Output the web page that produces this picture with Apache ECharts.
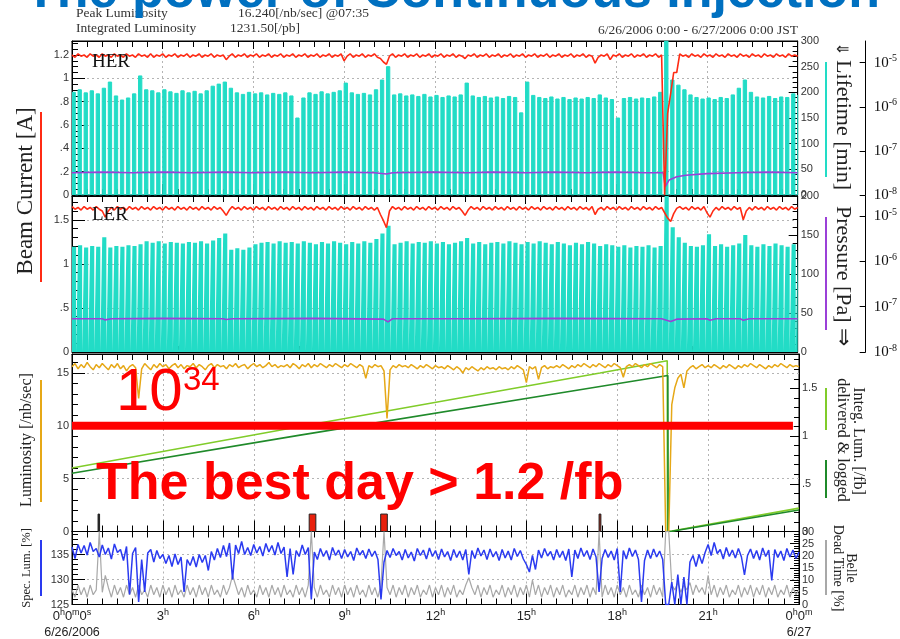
<!DOCTYPE html>
<html><head><meta charset="utf-8">
<script src="https://cdn.jsdelivr.net/npm/echarts@6/dist/echarts.min.js"></script>
<style>html,body{margin:0;padding:0;background:#fff}#c{width:900px;height:639px}</style>
</head><body><div id="c"></div>
<script>
// ---------------- DATA ----------------
// time step of dense series (hours)
const dtFine = 0.1;
const dtLife = 0.2;

// HER beam current [A], every 0.1 h
const herCurrent = [
1.20,1.18,1.21,1.19,1.20,1.18,1.21,1.19,1.20,1.18,
1.21,1.19,1.20,1.18,1.21,1.19,1.20,1.18,1.21,1.19,
1.20,1.18,1.21,1.19,1.20,1.18,1.21,1.18,1.20,1.19,
1.21,1.18,1.20,1.19,1.21,1.18,1.20,1.19,1.21,1.18,
1.20,1.19,1.21,1.18,1.20,1.19,1.21,1.18,1.20,1.19,
1.20,1.16,1.19,1.21,1.18,1.20,1.19,1.21,1.18,1.20,
1.19,1.21,1.18,1.20,1.19,1.21,1.18,1.20,1.19,1.21,
1.18,1.20,1.19,1.21,1.18,1.20,1.19,1.21,1.18,1.20,
1.19,1.21,1.18,1.20,1.19,1.21,1.18,1.20,1.19,1.21,
1.15,1.19,1.21,1.18,1.20,1.19,1.21,1.18,1.20,1.19,
1.21,1.18,1.17,1.14,1.12,1.19,1.21,1.18,1.20,1.19,
1.21,1.18,1.20,1.19,1.21,1.18,1.20,1.19,1.21,1.18,
1.20,1.19,1.21,1.18,1.20,1.19,1.21,1.18,1.20,1.19,
1.17,1.20,1.19,1.21,1.18,1.20,1.19,1.21,1.18,1.20,
1.19,1.21,1.18,1.20,1.19,1.21,1.18,1.20,1.19,1.21,
1.18,1.20,1.19,1.21,1.18,1.20,1.19,1.21,1.18,1.20,
1.19,1.21,1.18,1.20,1.19,1.21,1.18,1.20,1.19,1.21,
1.18,1.20,1.19,1.13,1.18,1.20,1.19,1.21,1.16,1.20,
1.19,1.21,1.18,1.20,1.19,1.21,1.18,1.20,1.19,1.21,
1.18,1.20,1.19,1.21,1.18,1.20,0.00,0.70,0.87,1.05,
1.05,1.21,1.19,1.20,1.18,1.21,1.19,1.20,1.18,1.21,
1.19,1.20,1.18,1.21,1.19,1.20,1.18,1.21,1.19,1.20,
1.18,1.21,1.19,1.20,1.18,1.21,1.19,1.20,1.18,1.21,
1.19,1.20,1.18,1.21,1.19,1.20,1.18,1.21,1.19,1.20,
1.19];

// LER beam current [A], every 0.1 h
const lerCurrent = [
1.65,1.62,1.64,1.61,1.65,1.62,1.64,1.61,1.65,1.62,
1.60,1.53,1.60,1.64,1.61,1.65,1.62,1.64,1.61,1.65,
1.62,1.64,1.61,1.65,1.62,1.64,1.61,1.65,1.62,1.64,
1.61,1.65,1.62,1.64,1.61,1.65,1.62,1.64,1.61,1.65,
1.62,1.64,1.61,1.65,1.62,1.64,1.61,1.65,1.62,1.64,
1.60,1.55,1.61,1.65,1.62,1.64,1.61,1.65,1.62,1.64,
1.61,1.65,1.62,1.64,1.61,1.65,1.62,1.64,1.61,1.65,
1.62,1.64,1.61,1.65,1.62,1.64,1.61,1.65,1.62,1.64,
1.61,1.65,1.62,1.64,1.61,1.65,1.62,1.64,1.61,1.65,
1.62,1.64,1.61,1.65,1.62,1.64,1.61,1.65,1.62,1.64,
1.61,1.64,1.56,1.49,1.41,1.60,1.65,1.62,1.64,1.61,
1.65,1.62,1.64,1.61,1.65,1.62,1.64,1.61,1.65,1.62,
1.64,1.61,1.65,1.62,1.64,1.61,1.65,1.62,1.64,1.60,
1.55,1.61,1.65,1.62,1.64,1.61,1.65,1.62,1.64,1.61,
1.65,1.62,1.64,1.61,1.65,1.62,1.64,1.61,1.65,1.62,
1.64,1.61,1.65,1.62,1.64,1.61,1.65,1.62,1.64,1.61,
1.65,1.62,1.64,1.61,1.65,1.62,1.64,1.61,1.65,1.62,
1.64,1.61,1.65,1.56,1.62,1.64,1.61,1.65,1.62,1.64,
1.61,1.65,1.62,1.64,1.61,1.65,1.62,1.64,1.61,1.65,
1.62,1.64,1.61,1.65,1.62,1.64,1.58,1.52,1.48,1.57,
1.63,1.65,1.62,1.64,1.61,1.65,1.62,1.64,1.61,1.65,
1.58,1.53,1.60,1.64,1.61,1.65,1.62,1.64,1.61,1.65,
1.62,1.64,1.50,1.60,1.64,1.61,1.65,1.62,1.64,1.61,
1.65,1.62,1.64,1.61,1.65,1.62,1.64,1.61,1.65,1.62,
1.64];

// HER lifetime [min], top of each injection cycle, every 0.2 h
const herLifetime = [
200,205,199,203,197,208,220,193,185,189,
197,232,205,203,199,205,201,198,203,199,
202,197,203,212,216,220,208,199,196,200,
197,199,195,198,196,199,193,150,189,199,
196,201,197,200,203,218,199,196,198,195,
205,224,250,195,197,193,195,192,196,191,
194,190,193,191,195,218,193,190,192,189,
191,188,192,190,160,220,194,190,188,191,
187,190,186,189,187,190,188,195,189,186,
150,188,190,187,189,188,191,200,300,224,
214,205,195,190,187,189,186,190,188,195,
208,224,200,191,189,192,188,191,190,197,
195];

// LER lifetime [min], top of each injection cycle, every 0.2 h
const lerLifetime = [
135,137,134,136,135,147,134,136,135,137,
136,138,142,140,142,139,141,140,139,141,
140,142,139,143,146,152,131,133,131,134,
138,140,141,139,142,140,141,139,142,140,
138,141,139,142,140,138,141,139,142,140,
145,152,162,138,140,142,139,141,140,142,
139,141,138,140,142,146,139,141,138,140,
141,139,142,140,138,141,139,142,140,138,
141,139,137,140,138,141,139,136,138,137,
135,137,134,136,135,137,134,136,200,160,
147,140,136,135,137,151,136,138,135,137,
139,150,137,135,138,136,139,137,135,138,
138];
// lifetime value reached at every injection dip
const lifeDip = 0;

// vacuum pressure [Pa] (hour, value)
const herPressure = [
[0,3.2e-8],[1,3.3e-8],[2,3.2e-8],[3,3.3e-8],[4,3.2e-8],[5,3.3e-8],[6,3.2e-8],[7,3.3e-8],
[8,3.2e-8],[9,3.3e-8],[10,3.2e-8],[10.4,3.0e-8],[10.6,3.2e-8],[12,3.3e-8],[13,3.2e-8],
[14,3.3e-8],[15,3.2e-8],[16,3.3e-8],[17,3.2e-8],[18,3.3e-8],[19,3.2e-8],[19.55,3.2e-8],
[19.62,1.55e-8],[19.75,2.2e-8],[20.0,2.6e-8],[20.3,2.8e-8],[21,3.05e-8],[22,3.2e-8],
[23,3.3e-8],[24,3.2e-8]];
const lerPressure = [
[0,5.4e-8],[1.0,5.4e-8],[1.1,5.1e-8],[1.3,5.4e-8],[3,5.5e-8],[5.0,5.4e-8],[5.1,5.2e-8],
[5.3,5.4e-8],[8,5.5e-8],[10.3,5.3e-8],[10.45,4.6e-8],[10.6,5.4e-8],[13,5.4e-8],
[16,5.5e-8],[19.5,5.4e-8],[19.8,4.7e-8],[20.0,5.3e-8],[21.0,5.4e-8],[21.1,5.0e-8],
[21.3,5.4e-8],[22.1,5.4e-8],[22.2,5.0e-8],[22.4,5.4e-8],[24,5.4e-8]];

// Luminosity [/nb/sec], every 0.1 h
const luminosity = [
15.6,15.9,15.4,15.8,15.5,16.0,15.6,15.3,15.8,15.5,
15.9,15.6,15.3,15.8,15.5,15.9,15.4,15.7,15.2,15.6,
15.8,15.5,12.6,15.4,15.9,15.6,15.3,15.8,15.5,15.9,
15.6,15.8,15.4,15.7,15.9,15.5,15.8,15.4,15.7,15.6,
15.9,15.5,15.8,15.6,15.3,15.7,15.9,15.5,15.8,15.6,
15.7,15.4,15.8,15.6,15.9,15.5,15.7,15.8,15.4,15.7,
15.9,15.6,15.8,15.5,15.7,16.0,15.6,15.8,15.5,15.7,
15.6,15.8,15.5,15.9,15.7,15.4,15.8,15.6,15.9,15.5,
15.8,15.6,15.9,15.7,15.5,15.8,15.6,15.9,15.7,15.5,
15.8,15.6,15.9,15.7,15.5,15.8,15.6,14.5,15.7,15.5,
15.8,15.6,15.7,15.2,10.7,15.3,15.7,15.5,15.8,15.6,
15.7,15.5,15.8,15.6,15.4,15.7,15.5,15.8,15.6,15.4,
15.7,15.5,15.6,15.4,15.7,15.5,15.3,15.6,15.4,15.0,
15.5,15.3,15.6,15.4,15.2,15.5,15.3,15.6,15.4,15.5,
15.3,15.6,15.4,15.5,15.3,15.6,15.4,15.7,15.5,15.3,
14.1,15.6,15.4,15.6,14.4,15.5,15.7,15.4,15.6,15.5,
15.7,15.5,15.8,15.6,15.4,15.7,15.5,15.8,15.6,15.9,
15.7,15.5,15.8,15.6,15.9,15.7,15.5,15.8,15.6,15.9,
15.7,15.5,14.6,15.6,15.8,15.6,15.9,15.7,15.5,15.8,
15.6,15.9,15.7,15.5,15.8,15.6,0,0,12.0,13.6,
14.5,14.9,13.6,15.2,15.5,15.7,15.4,15.6,15.8,15.5,
15.7,15.5,15.8,15.6,15.4,15.7,15.5,15.8,15.6,15.4,
15.7,15.5,15.8,15.6,15.9,15.7,15.5,15.8,15.6,15.4,
15.7,15.5,15.8,15.6,15.9,15.7,15.5,15.8,15.6,15.7,
15.6];

// integrated luminosity [/fb] (hour, value)
const integDelivered = [[0,0.665],[7.53,1.10],[17.43,1.66],[19.65,1.79],[19.66,0],[19.8,0.005],[24,0.245]];
const integLogged    = [[0,0.61],[7.53,1.01],[17.43,1.52],[19.67,1.635],[19.68,0],[19.8,0.003],[24,0.225]];

// run stop markers (start hour, end hour, colour)
const eventSpans = [[0.86,0.91,'#222222'],[7.83,8.05,'#e8200c'],[10.19,10.41,'#e8200c'],[17.40,17.46,'#a02010']];
// highlighted 10^34 level
const bestLine = [[0,10],[23.8,10]];

// specific luminosity [%], every 0.1 h
const specLum = [
136.5,134.2,137.0,135.3,136.8,134.9,137.4,135.6,136.2,134.5,
136.9,135.0,136.3,134.1,137.1,135.4,136.0,133.8,136.6,127.0,
135.2,136.4,125.5,134.0,127.5,135.3,136.0,133.5,135.8,134.2,
135.0,133.2,134.8,132.6,135.1,133.0,134.5,127.5,134.0,132.8,
134.6,132.5,135.0,133.4,134.8,131.8,135.6,133.9,136.2,134.4,
136.8,134.6,137.3,130.0,136.9,135.2,137.6,135.0,136.4,134.8,
137.0,135.3,136.6,134.7,137.2,135.5,136.8,134.9,137.4,135.2,
136.5,130.5,136.2,131.0,135.8,134.6,136.9,135.0,136.4,126.0,
135.5,134.0,136.2,134.6,135.8,133.9,136.4,134.8,135.9,134.2,
136.0,134.5,135.6,133.8,136.3,134.9,135.8,134.2,136.1,134.6,
135.7,134.0,126.0,133.5,135.8,134.4,136.2,134.8,135.6,133.9,
136.0,134.3,135.5,133.7,136.2,134.8,135.9,134.1,136.3,134.6,
135.8,134.0,136.1,134.5,135.6,133.8,136.0,134.4,135.7,133.9,
136.0,131.0,135.8,134.2,136.3,134.7,135.9,134.0,136.1,134.5,
135.6,133.8,136.0,134.3,135.7,133.9,136.2,134.6,135.8,134.1,
133.0,131.5,134.8,132.0,135.9,134.3,136.2,134.7,135.6,133.9,
136.0,134.4,135.7,133.8,136.1,130.5,135.9,134.2,136.3,134.6,
135.8,134.0,136.1,134.5,127.5,134.2,136.0,134.4,135.7,133.9,
136.2,127.5,135.8,134.1,136.3,134.6,135.9,134.0,125.5,133.8,
135.9,134.2,136.1,134.5,135.7,134.0,125.0,125.0,129.5,125.0,
131.0,125.0,130.5,125.0,133.5,134.8,132.6,135.0,133.2,135.4,
137.0,134.8,137.4,135.2,136.0,134.1,136.4,134.6,135.9,134.3,
136.2,134.5,130.9,134.8,136.1,134.2,135.8,133.9,136.3,134.6,
135.9,129.8,136.0,134.4,135.7,133.8,136.2,134.5,135.9,134.2,
135.5];

// Belle dead time [%], every 0.1 h
const deadTime = [
6,3,8,4,7,3,8,4,6,30,
5,12,7,3,8,4,7,3,8,4,
7,3,8,4,6,3,8,4,7,3,
8,4,7,3,8,4,6,3,8,4,
7,3,8,4,7,3,8,4,6,3,
8,4,7,12,8,4,7,3,8,4,
6,3,8,4,7,3,8,4,7,3,
8,4,6,3,8,4,7,3,8,30,
7,3,8,4,6,3,8,4,7,3,
8,4,7,3,8,4,6,3,8,4,
7,3,8,30,7,4,8,3,7,4,
8,3,7,4,8,3,6,4,8,3,
7,4,8,3,7,4,8,3,6,4,
8,11,7,4,8,3,7,4,8,3,
6,4,8,3,7,4,8,3,7,4,
8,3,10,4,8,3,7,4,8,3,
7,4,8,3,6,4,8,3,7,4,
8,3,7,4,30,3,8,4,7,3,
8,4,7,3,8,4,6,3,8,4,
7,3,8,4,7,3,30,30,8,6,
9,5,8,6,9,4,8,5,7,4,
12,4,8,3,7,4,8,3,6,4,
8,3,7,4,8,3,7,4,8,3,
7,4,8,3,6,4,8,3,7,4,
6];

// x tick labels
const hourTicks = [0,3,6,9,12,15,18,21,24];
const startDate = '6/26/2006';
const endDate = '6/27';

// ---------------- BUILD ----------------
function timed(arr, dt){ return arr.map((v,i)=>[+(i*dt).toFixed(3), v]); }
// each injection cycle: plateau at the lifetime, then dip just before the next cycle
function cycles(tops, dt, frac, dip){
  const out=[];
  tops.forEach((v,j)=>{
    out.push([+(j*dt).toFixed(3), v]);
    if (j<tops.length-1) out.push([+(j*dt+frac*dt).toFixed(3), dip]);
  });
  return out;
}
const C = {
  red:'#ff2b14', cyan:'#22dcc6', purple:'#9b40d8', orange:'#e6a817',
  lgreen:'#80cc2a', dgreen:'#1f8a2a', blue:'#2a3af0', gray:'#a8a8a8'
};
const axisFont = {fontFamily:'Liberation Sans', fontSize:11, color:'#333'};
const dotted = {show:true, lineStyle:{color:'#b4b4b4', type:[2,3], width:1}};
function lead(v){ if (Math.abs(v)<1e-9) return '0'; let s=(+v.toFixed(3)).toString(); if (s.startsWith('0.')) s=s.slice(1); return s; }

const grids = [
  {left:72, top:41, width:727, height:154},
  {left:72, top:196, width:727, height:156},
  {left:72, top:354, width:727, height:177.5},
  {left:72, top:531.5, width:727, height:73}
].map(g=>Object.assign(g,{show:true, borderColor:'#000', borderWidth:1, backgroundColor:'transparent'}));

const supRich = {
  b:{fontFamily:'Liberation Sans', fontSize:13, color:'#222', lineHeight:16},
  s:{fontFamily:'Liberation Sans', fontSize:9, color:'#222', lineHeight:16, verticalAlign:'top'},
  d:{fontFamily:'Liberation Sans', fontSize:12.5, color:'#222', lineHeight:16}
};
const xAxes = [];
for (let g=0; g<4; g++){
  xAxes.push({type:'value', gridIndex:g, min:0, max:24, interval:3, position:'bottom',
    axisLine:{show:true, onZero:false, lineStyle:{color:'#000'}},
    axisTick:{show:true, inside:true, length:11, lineStyle:{color:'#000'}},
    minorTick:{show:true, splitNumber:6, length:6, lineStyle:{color:'#000'}},
    splitLine:dotted,
    axisLabel:{show:g===3, margin:4, rich:supRich,
      formatter:v=> v===0 ? '{b|0}{s|h}{b|0}{s|m}{b|0}{s|s}\n{d|'+startDate+'}'
                 : v===24 ? '{b|0}{s|h}{b|0}{s|m}\n{d|'+endDate+'}'
                 : '{b|'+v+'}{s|h}'}
  });
  xAxes.push({type:'value', gridIndex:g, min:0, max:24, interval:3, position:'top',
    axisLine:{show:true, onZero:false, lineStyle:{color:'#000'}},
    axisTick:{show:true, inside:true, length:8, lineStyle:{color:'#000'}},
    minorTick:{show:true, splitNumber:6, length:6, lineStyle:{color:'#000'}},
    splitLine:{show:false}, axisLabel:{show:false}});
}
function leftAxis(g,min,max,interval,minorSplit,fmt){
  return {type:'value', gridIndex:g, position:'left', min, max, interval,
    axisLine:{show:true, onZero:false, lineStyle:{color:'#000'}},
    axisTick:{show:true, inside:true, length:13, lineStyle:{color:'#000'}},
    minorTick:{show:true, splitNumber:minorSplit, length:6, lineStyle:{color:'#000'}},
    splitLine:dotted,
    axisLabel:Object.assign({margin:3, showMaxLabel:false, formatter:fmt||lead}, axisFont)};
}
function rightAxis(g,min,max,interval,minorSplit,showMax){
  return {type:'value', gridIndex:g, position:'right', min, max, interval,
    axisLine:{show:true, onZero:false, lineStyle:{color:'#000'}},
    axisTick:{show:true, inside:true, length:9, lineStyle:{color:'#000'}},
    minorTick:{show:true, splitNumber:minorSplit, length:5, lineStyle:{color:'#000'}},
    splitLine:{show:false},
    axisLabel:Object.assign({margin:3, showMaxLabel:showMax, formatter:lead}, axisFont)};
}
function logAxis(g,max){
  return {type:'log', logBase:10, gridIndex:g, position:'right', offset:68, min:1e-8, max,
    axisLine:{show:true, onZero:false, lineStyle:{color:'#000'}},
    axisTick:{show:true, inside:true, length:6, lineStyle:{color:'#000'}},
    splitLine:{show:false}, minorTick:{show:false},
    axisLabel:{margin:8, showMaxLabel:false,
      formatter:v=>'{b|10}{s|'+Math.round(Math.log10(v))+'}',
      rich:{b:{fontFamily:'Liberation Serif', fontSize:15, color:'#111', lineHeight:18},
            s:{fontFamily:'Liberation Serif', fontSize:10, color:'#111', lineHeight:18, verticalAlign:'top'}}}};
}
const yAxes = [
  leftAxis(0,0,1.32,0.2,4),          //0 HER current
  rightAxis(0,0,300,50,5,true),      //1 HER lifetime
  logAxis(0,3.1e-5),                 //2 HER pressure
  leftAxis(1,0,1.77,0.5,5),          //3 LER current
  rightAxis(1,0,200,50,5,true),      //4 LER lifetime
  logAxis(1,2.75e-5),                //5 LER pressure
  leftAxis(2,0,16.8,5,5),            //6 luminosity
  rightAxis(2,0,1.86,0.5,5,false),   //7 integrated
  leftAxis(3,125,139.6,5,5),         //8 spec lum
  rightAxis(3,0,30,5,5,true)         //9 dead time
];

const base = {type:'line', symbol:'none', silent:true, animation:false};
const series = [
  Object.assign({}, base, {name:'HER life', xAxisIndex:0, yAxisIndex:1, step:'end',
    data:cycles(herLifetime, dtLife, 0.55, lifeDip), lineStyle:{color:C.cyan, width:1},
    areaStyle:{color:C.cyan, opacity:1}}),
  Object.assign({}, base, {name:'HER pres', xAxisIndex:0, yAxisIndex:2, data:herPressure, lineStyle:{color:C.purple, width:1.6}}),
  Object.assign({}, base, {name:'HER cur', xAxisIndex:0, yAxisIndex:0, data:timed(herCurrent, dtFine), lineStyle:{color:C.red, width:1.6}}),

  Object.assign({}, base, {name:'LER life', xAxisIndex:2, yAxisIndex:4, step:'end',
    data:cycles(lerLifetime, dtLife, 0.68, lifeDip), lineStyle:{color:C.cyan, width:0},
    areaStyle:{color:C.cyan, opacity:1}}),
  Object.assign({}, base, {name:'LER pres', xAxisIndex:2, yAxisIndex:5, data:lerPressure, lineStyle:{color:C.purple, width:1.6}}),
  Object.assign({}, base, {name:'LER cur', xAxisIndex:2, yAxisIndex:3, data:timed(lerCurrent, dtFine), lineStyle:{color:C.red, width:1.6}}),

  Object.assign({}, base, {name:'delivered', xAxisIndex:4, yAxisIndex:7, data:integDelivered, lineStyle:{color:C.lgreen, width:1.6}}),
  Object.assign({}, base, {name:'logged', xAxisIndex:4, yAxisIndex:7, data:integLogged, lineStyle:{color:C.dgreen, width:1.6}}),
  Object.assign({}, base, {name:'lum', xAxisIndex:4, yAxisIndex:6, data:timed(luminosity, dtFine), lineStyle:{color:C.orange, width:1.5},
    markArea:{silent:true, data:eventSpans.map(e=>[{xAxis:e[0], yAxis:0, itemStyle:{color:e[2], borderColor:'#222', borderWidth:1}},{xAxis:e[1], yAxis:1.65}])}}),
  Object.assign({}, base, {name:'best', xAxisIndex:4, yAxisIndex:6, data:bestLine, z:5, lineStyle:{color:'#ff0000', width:8, cap:'butt'}}),

  Object.assign({}, base, {name:'dead', xAxisIndex:6, yAxisIndex:9, data:timed(deadTime, dtFine), lineStyle:{color:C.gray, width:1.2}}),
  Object.assign({}, base, {name:'spec', xAxisIndex:6, yAxisIndex:8, data:timed(specLum, dtFine), lineStyle:{color:C.blue, width:1.5}})
];

function T(text, x, y, o){
  return Object.assign({type:'text', x, y, z:50, silent:true,
    style:Object.assign({text, fill:'#222', fontFamily:'Liberation Serif', fontSize:14, align:'left', verticalAlign:'middle'}, o.style||{})},
    o.rotation!==undefined?{rotation:o.rotation}:{} );
}
function bar(x,y1,y2,color){ return {type:'rect', z:50, silent:true, shape:{x:x, y:y1, width:2, height:y2-y1}, style:{fill:color}}; }
const R = Math.PI/2;
const graphics = [
  T('Peak Luminosity', 76, 13, {style:{fontSize:13.5, fill:'#333'}}),
  T('16.240[/nb/sec] @07:35', 238, 13, {style:{fontSize:13.5, fill:'#333'}}),
  T('Integrated Luminosity', 76, 28, {style:{fontSize:13.5, fill:'#333'}}),
  T('1231.50[/pb]', 230, 28, {style:{fontSize:13.5, fill:'#333'}}),
  T('6/26/2006 0:00 - 6/27/2006 0:00 JST', 798, 30.5, {style:{fontSize:13.5, fill:'#333', align:'right'}}),
  T('HER', 92, 62, {style:{fontSize:19, fill:'#111'}}),
  T('LER', 92, 215, {style:{fontSize:19, fill:'#111'}}),
  T('Beam Current [A]', 25.5, 191, {rotation:R, style:{fontSize:23, align:'center'}}),
  T('Luminosity [/nb/sec]', 26.5, 440, {rotation:R, style:{fontSize:16, align:'center'}}),
  T('Spec. Lum. [%]', 27, 568, {rotation:R, style:{fontSize:12.6, align:'center'}}),
  T('\u21d0', 842, 50, {style:{fontSize:16, align:'center'}}),
  T('Lifetime [min]', 842.5, 125, {rotation:-R, style:{fontSize:22, align:'center'}}),
  T('Pressure [Pa] \u21d2', 842.5, 276, {rotation:-R, style:{fontSize:22, align:'center'}}),
  T('Integ. Lum. [/fb]', 858, 441, {rotation:-R, style:{fontSize:16, align:'center'}}),
  T('delivered & logged', 842, 440, {rotation:-R, style:{fontSize:16, align:'center'}}),
  T('Belle', 851, 568, {rotation:-R, style:{fontSize:14, align:'center'}}),
  T('Dead Time [%]', 838, 568, {rotation:-R, style:{fontSize:14, align:'center'}}),
  bar(40,112,282,C.red), bar(40,380,502,C.orange), bar(40,540,596,C.blue),
  bar(825,62,177,C.cyan), bar(825,217,330,C.purple), bar(825,388,430,C.lgreen), bar(825,460,498,C.dgreen), bar(825,540,595,C.gray),
  T('10', 116, 393, {style:{fontFamily:'Liberation Sans', fontSize:60, fill:'#ff0000'}}),
  T('34', 183, 381, {style:{fontFamily:'Liberation Sans', fontSize:33, fill:'#ff0000'}}),
  T('The best day > 1.2 /fb', 96, 485, {style:{fontFamily:'Liberation Sans', fontWeight:'bold', fontSize:52, fill:'#ff0000'}}),
  T('The power of Continuous Injection', 25, -7, {style:{fontFamily:'Liberation Sans', fontWeight:'bold', fontSize:52, fill:'#0070c0'}})
];

const chart = echarts.init(document.getElementById('c'), null, {renderer:'canvas'});
chart.setOption({
  animation:false,
  backgroundColor:'#fff',
  grid:grids, xAxis:xAxes, yAxis:yAxes, series, graphic:graphics
});
</script></body></html>
